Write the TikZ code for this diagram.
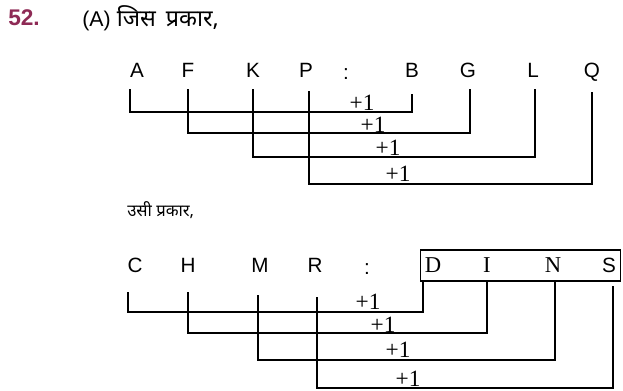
\documentclass[tikz,border=0pt]{standalone}
\usepackage{fontspec}
\setmainfont{Liberation Serif}
\newfontfamily\deva[Script=Devanagari]{Noto Sans}
\newfontfamily\lsans{Liberation Sans}
\newfontfamily\lserif{Liberation Serif}
\definecolor{numcol}{HTML}{8E2A55}
\begin{document}
\begin{tikzpicture}[x=0.75pt,y=-0.75pt,
  lt/.style={font=\lsans\fontsize{15.5}{16}\selectfont,inner sep=0pt,anchor=center,text height=11pt,text depth=0pt},
  ltserif/.style={font=\lserif\fontsize{17}{18}\selectfont,inner sep=0pt,anchor=center,text height=11.3pt,text depth=0pt},
  plus/.style={font=\lserif\fontsize{17.5}{18}\selectfont,inner sep=0pt,anchor=center},
  hin/.style={font=\deva\fontsize{12.5}{14}\selectfont,inner sep=0pt,anchor=west},
  conn/.style={line width=1.1pt,line cap=rect}]
\useasboundingbox (0,0) rectangle (623,391);
% heading
\node[font=\lsans\bfseries\fontsize{17}{18}\selectfont,text=numcol,inner sep=0pt,anchor=west] (num) at (8,18) {52.};
\node[hin,font=\deva\fontsize{17.5}{19}\selectfont] (head) at (82,18) {{\lsans\fontsize{16}{18}\selectfont(A)} जिस\hspace{3pt} प्रकार,};
% top row letters
\node[lt] (A) at (137,70) {A};
\node[lt] (F) at (188,70) {F};
\node[lt] (K) at (253,70) {K};
\node[lt] (P) at (306,70) {P};
\node[lt] (c1) at (346,72) {:};
\node[lt] (B) at (412,70) {B};
\node[lt] (G) at (468,70) {G};
\node[lt] (L) at (533,70) {L};
\node[lt] (Q) at (592,70) {Q};
% top connector ends
\coordinate (a1) at (130,90); \coordinate (b1) at (412,95);
\coordinate (f1) at (188,90); \coordinate (g1) at (470,90);
\coordinate (k1) at (253,90); \coordinate (l1) at (535,90);
\coordinate (p1) at (309,92); \coordinate (q1) at (592,93);
\draw[conn] (a1) -- (a1 |- 0,112) -- (b1 |- 0,112) -- (b1);
\draw[conn] (f1) -- (f1 |- 0,133) -- (g1 |- 0,133) -- (g1);
\draw[conn] (k1) -- (k1 |- 0,157) -- (l1 |- 0,157) -- (l1);
\draw[conn] (p1) -- (p1 |- 0,184) -- (q1 |- 0,184) -- (q1);
\node[plus] (t1) at (362,103) {+1};
\node[plus] (t2) at (373,125) {+1};
\node[plus] (t3) at (388,148) {+1};
\node[plus] (t4) at (398,174) {+1};
% second heading
\node[hin] (head2) at (127,210) {उसी प्रकार,};
% bottom row letters
\node[lt] (C) at (135,265) {C};
\node[lt] (H) at (188,265) {H};
\node[lt] (M) at (260,265) {M};
\node[lt] (R) at (315,265) {R};
\node[lt] (c2) at (367,267) {:};
\node[ltserif] (D) at (433,265) {D};
\node[ltserif] (I) at (487,265) {I};
\node[ltserif] (N) at (553,265) {N};
\node[lt] (S) at (609,265) {S};
\node[draw,line width=1.1pt,minimum width=200.5*0.75pt,minimum height=31*0.75pt,inner sep=0pt] (box) at (520.5,265.5) {};
% bottom connector ends
\coordinate (cc) at (128,293); \coordinate (dd) at (423,281);
\coordinate (hh) at (188,293); \coordinate (ii) at (487,281);
\coordinate (mm) at (258,296); \coordinate (nn) at (555,281);
\coordinate (rr) at (317,298); \coordinate (ss) at (613,287);
\draw[conn] (cc) -- (cc |- 0,312) -- (dd |- 0,312) -- (dd);
\draw[conn] (hh) -- (hh |- 0,333) -- (ii |- 0,333) -- (ii);
\draw[conn] (mm) -- (mm |- 0,360) -- (nn |- 0,360) -- (nn);
\draw[conn] (rr) -- (rr |- 0,388) -- (ss |- 0,388) -- (ss);
\node[plus] (u1) at (368,302) {+1};
\node[plus] (u2) at (383,325) {+1};
\node[plus] (u3) at (398,350) {+1};
\node[plus] (u4) at (408,379) {+1};
\end{tikzpicture}
\end{document}
